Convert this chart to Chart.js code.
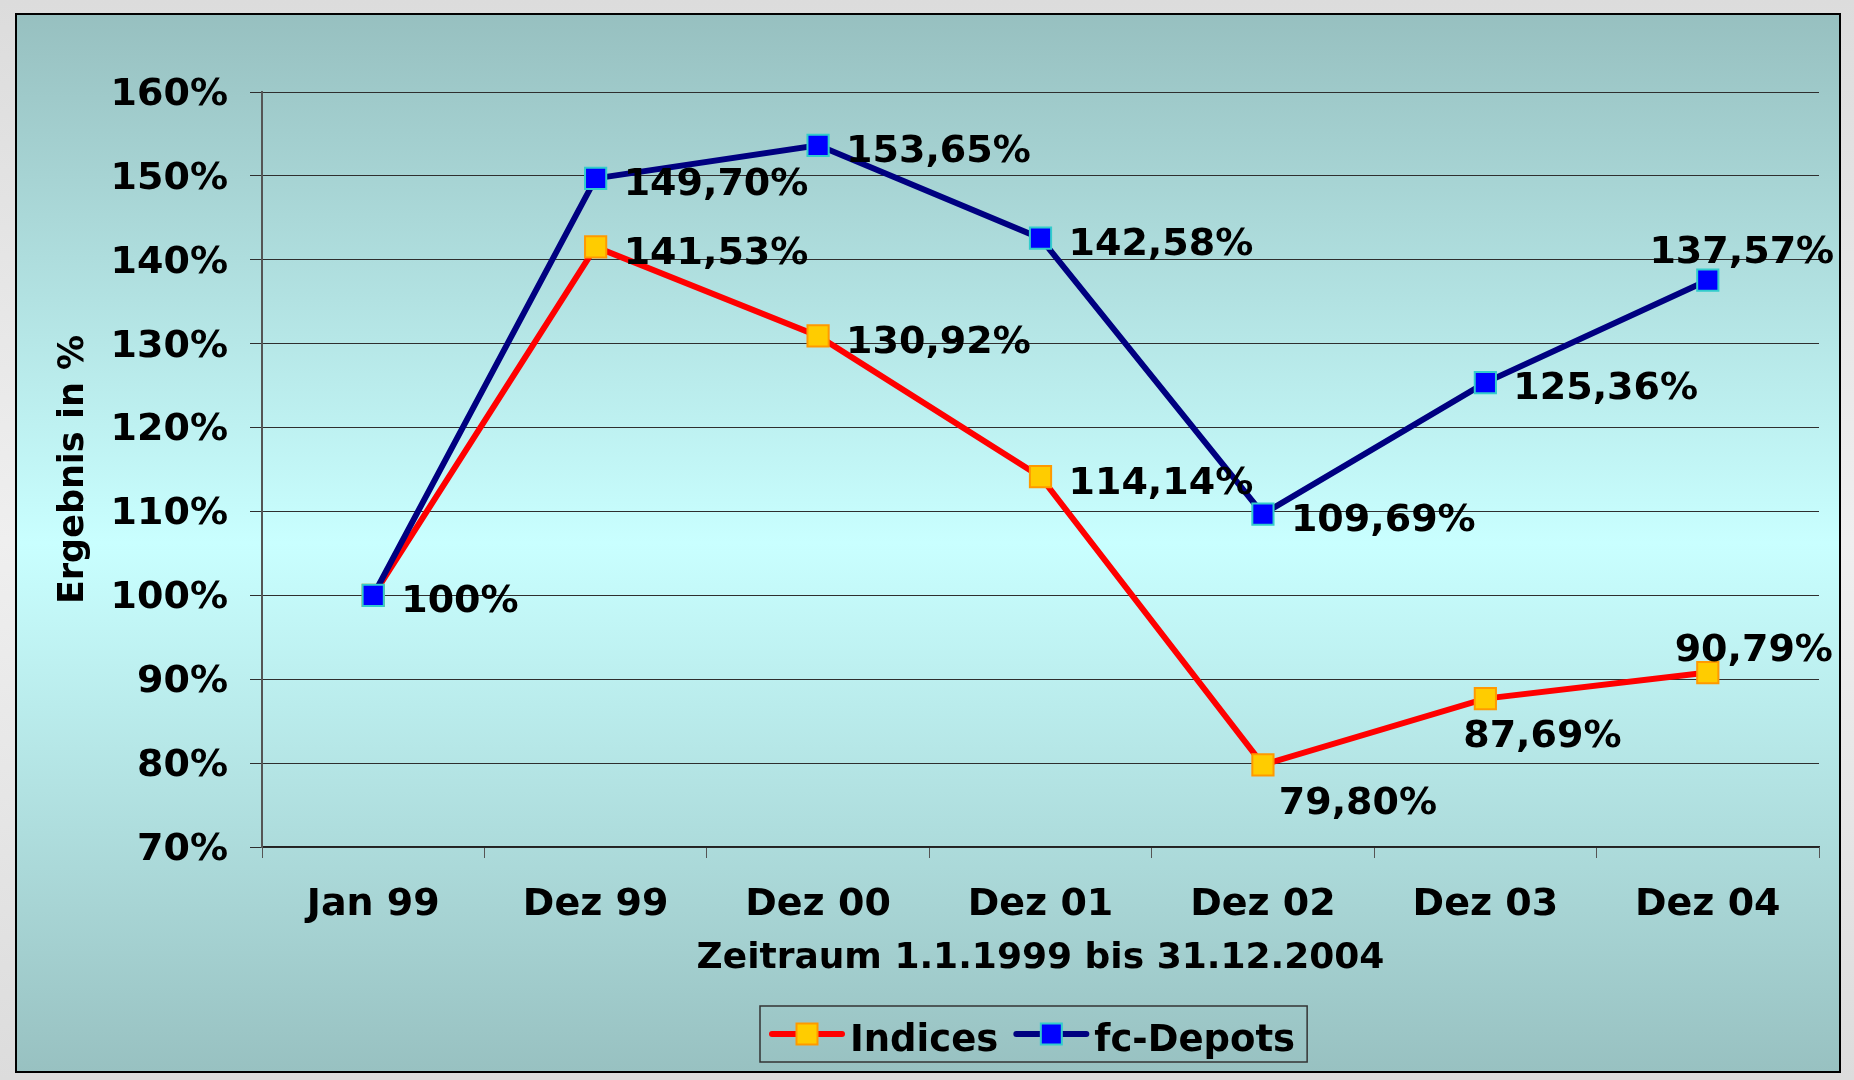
<!DOCTYPE html>
<html>
<head>
<meta charset="utf-8">
<title>Ergebnis in %</title>
<script src="https://cdn.jsdelivr.net/npm/chart.js@4.4.1/dist/chart.umd.min.js"></script>
<style>
    html, body { margin: 0; padding: 0; }
    body { background: linear-gradient(#dcdcdc, #efefef 50%, #dcdcdc); }
    #wrap { width: 1854px; height: 1080px; }
</style>
</head>
<body>
<div id="wrap"><canvas id="resultChart" width="1854" height="1080"></canvas></div>
<script>
'use strict';

// ============================================================================
// DATA
// ============================================================================

const periods = ['Jan 99', 'Dez 99', 'Dez 00', 'Dez 01', 'Dez 02', 'Dez 03', 'Dez 04'];
const seriesNames = ['Indices', 'fc-Depots'];
const indicesValues = [100, 141.53, 130.92, 114.14, 79.80, 87.69, 90.79];
const depotValues = [100, 149.70, 153.65, 142.58, 109.69, 125.36, 137.57];
const yTicks = [70, 80, 90, 100, 110, 120, 130, 140, 150, 160];

// where each value label sits relative to its marker: [dx, dy, textAlign]
// null = no label (the Jan 99 start point is labelled only once)
const R = [28, 7, 'left'];
const indicesLabelOffsets = [null, R, R, R, [95, 39, 'center'], [57, 39, 'center'], [46, -21, 'center']];
const depotLabelOffsets = [R, R, R, R, R, R, [34, -27, 'center']];

const FONT_FAMILY = "'DejaVu Sans', Verdana, sans-serif";

/**
 * Formats a value the German way, e.g. 141.53 -> "141,53%".
 * @param {number} value
 * @returns {string}
 */
function formatPercent(value) {
    if (Number.isInteger(value)) return value + '%';
    return value.toFixed(2).replace('.', ',') + '%';
}

// ============================================================================
// PLUGINS
// ============================================================================

/** Paints the framed gradient panel behind the whole chart */
const framePlugin = {
    id: 'frame',
    beforeDraw(chart, args, opts) {
        const { ctx } = chart;
        const { left, top, right, bottom } = opts;
        const fill = ctx.createLinearGradient(0, top, 0, bottom);
        fill.addColorStop(0, '#97c0c0');
        fill.addColorStop(0.5, '#c9ffff');
        fill.addColorStop(1, '#98c1c1');
        ctx.save();
        ctx.fillStyle = fill;
        ctx.fillRect(left, top, right - left, bottom - top);
        ctx.strokeStyle = '#000';
        ctx.lineWidth = 2;
        ctx.strokeRect(left, top, right - left, bottom - top);
        ctx.restore();
    }
};

/** Writes the value next to every marker */
const valueLabelPlugin = {
    id: 'valueLabels',
    afterDatasetsDraw(chart, args, opts) {
        const { ctx } = chart;
        const offsets = [indicesLabelOffsets, depotLabelOffsets];
        ctx.save();
        ctx.font = opts.font;
        ctx.fillStyle = '#000';
        ctx.textBaseline = 'middle';
        chart.data.datasets.forEach((dataset, datasetIndex) => {
            const meta = chart.getDatasetMeta(datasetIndex);
            meta.data.forEach((point, i) => {
                const offset = offsets[datasetIndex][i];
                if (!offset) return;
                ctx.textAlign = offset[2];
                ctx.fillText(formatPercent(dataset.data[i]), point.x + offset[0], point.y + offset[1]);
            });
        });
        ctx.restore();
    }
};

/** Excel-style boxed legend: line with marker, then the series name */
const boxLegendPlugin = {
    id: 'boxLegend',
    afterDraw(chart, args, opts) {
        const { ctx } = chart;
        const y = opts.top + opts.height / 2;
        let x = opts.left + opts.padding;
        ctx.save();
        ctx.font = opts.font;
        ctx.textBaseline = 'middle';
        ctx.textAlign = 'left';
        chart.data.datasets.forEach(dataset => {
            ctx.strokeStyle = dataset.borderColor;
            ctx.lineWidth = dataset.borderWidth;
            ctx.lineCap = 'round';
            ctx.beginPath();
            ctx.moveTo(x, y);
            ctx.lineTo(x + opts.lineLength, y);
            ctx.stroke();

            const size = opts.markerSize;
            const mx = x + opts.lineLength / 2 - size / 2;
            ctx.fillStyle = dataset.pointBackgroundColor;
            ctx.fillRect(mx, y - size / 2, size, size);
            ctx.strokeStyle = dataset.pointBorderColor;
            ctx.lineWidth = dataset.pointBorderWidth;
            ctx.strokeRect(mx, y - size / 2, size, size);

            x += opts.lineLength + opts.textGap;
            ctx.fillStyle = '#000';
            ctx.fillText(dataset.label, x, y + 7);
            x += ctx.measureText(dataset.label).width + opts.itemGap;
        });
        const right = x - opts.itemGap + opts.padding;
        ctx.strokeStyle = '#333';
        ctx.lineWidth = 1.5;
        ctx.strokeRect(opts.left, opts.top, right - opts.left, opts.height);
        ctx.restore();
    }
};

// ============================================================================
// CHART
// ============================================================================

function renderChart() {
    const canvas = document.getElementById('resultChart');
    const axisFont = { family: FONT_FAMILY, size: 38, weight: 'bold' };

    new Chart(canvas.getContext('2d'), {
        type: 'line',
        data: {
            labels: periods,
            datasets: [{
                label: seriesNames[0],
                data: indicesValues,
                borderColor: '#ff0000',
                borderWidth: 6,
                pointStyle: 'rect',
                pointRadius: 15,
                pointBackgroundColor: '#ffcc00',
                pointBorderColor: '#ff9900',
                pointBorderWidth: 2,
                tension: 0,
                order: 2
            }, {
                label: seriesNames[1],
                data: depotValues,
                borderColor: '#000080',
                borderWidth: 6,
                pointStyle: 'rect',
                pointRadius: 15,
                pointBackgroundColor: '#0000ff',
                pointBorderColor: '#33cccc',
                pointBorderWidth: 2,
                tension: 0,
                order: 1
            }]
        },
        options: {
            responsive: false,
            animation: false,
            layout: { padding: { left: 30, top: 92, right: 35, bottom: 85 } },
            plugins: {
                legend: { display: false },
                tooltip: { enabled: false },
                frame: { left: 16, top: 14, right: 1840, bottom: 1072 },
                valueLabels: { font: 'bold 38px ' + FONT_FAMILY },
                boxLegend: {
                    font: 'bold 37px ' + FONT_FAMILY,
                    left: 760, top: 1006, height: 56,
                    padding: 12, lineLength: 70, markerSize: 21,
                    textGap: 8, itemGap: 18
                }
            },
            scales: {
                x: {
                    offset: true,
                    grid: {
                        offset: true,
                        drawOnChartArea: false,
                        drawTicks: true,
                        tickLength: 11,
                        color: '#555'
                    },
                    border: { color: '#222', width: 1.5 },
                    ticks: {
                        color: '#000',
                        font: axisFont,
                        padding: 24,
                        maxRotation: 0,
                        autoSkip: false
                    },
                    title: {
                        display: true,
                        text: 'Zeitraum 1.1.1999 bis 31.12.2004',
                        color: '#000',
                        font: { family: FONT_FAMILY, size: 36, weight: 'bold' },
                        padding: { top: 0, bottom: 15 }
                    },
                    afterFit: scale => { scale.height = 148; }
                },
                y: {
                    min: yTicks[0],
                    max: yTicks[yTicks.length - 1],
                    afterBuildTicks: scale => { scale.ticks = yTicks.map(value => ({ value })); },
                    grid: { color: '#2e2e2e', lineWidth: 1, tickLength: 12 },
                    border: { color: '#555', width: 2 },
                    ticks: {
                        color: '#000',
                        font: axisFont,
                        padding: 22,
                        labelOffset: 3,
                        callback: value => value + '%'
                    },
                    title: {
                        display: true,
                        text: 'Ergebnis in %',
                        color: '#000',
                        font: { family: FONT_FAMILY, size: 35, weight: 'bold' },
                        padding: { top: 23, bottom: 0 }
                    },
                    afterFit: scale => { scale.width = 232; }
                }
            }
        },
        plugins: [framePlugin, valueLabelPlugin, boxLegendPlugin]
    });
}

renderChart();
</script>
</body>
</html>
